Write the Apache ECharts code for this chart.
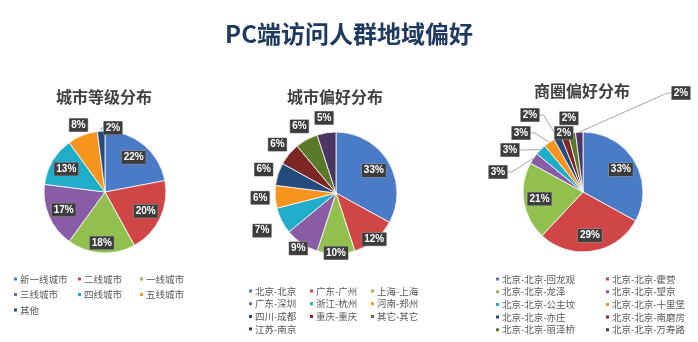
<!DOCTYPE html>
<html>
<head>
<meta charset="utf-8">
<script src="https://cdn.jsdelivr.net/npm/echarts@6/dist/echarts.min.js"></script>
<style>html,body{margin:0;padding:0;background:#fff}#c{width:698px;height:342px}</style>
</head>
<body>
<div id="c"></div>
<script>
// ---- data ----
const mainTitle = 'PC端访问人群地域偏好';

const tierTitle = '城市等级分布';
const tierNames = ['新一线城市', '二线城市', '一线城市', '三线城市', '四线城市', '五线城市', '其他'];
const tierValues = [22, 20, 18, 17, 13, 8, 2];

const cityTitle = '城市偏好分布';
const cityNames = ['北京-北京', '广东-广州', '上海-上海', '广东-深圳', '浙江-杭州', '河南-郑州', '四川-成都', '重庆-重庆', '其它-其它', '江苏-南京'];
const cityValues = [33, 12, 10, 9, 7, 6, 6, 6, 6, 5];

const areaTitle = '商圈偏好分布';
const areaNames = ['北京-北京-回龙观', '北京-北京-霍营', '北京-北京-龙泽', '北京-北京-望京', '北京-北京-公主坟', '北京-北京-十里堡', '北京-北京-亦庄', '北京-北京-南磨房', '北京-北京-丽泽桥', '北京-北京-万寿路'];
const areaValues = [33, 29, 21, 3, 3, 3, 2, 2, 2, 2];

// ---- styles ----
const palette = ['#4a7bc6', '#d04545', '#92c04e', '#8a5ca8', '#1fadc9', '#f7941e', '#254a7c', '#7d2626', '#5b7a29', '#4b3562'];
const cjk = '"Microsoft YaHei", "Noto Sans CJK SC", sans-serif';
const pctLabel = {
  color: '#fff', fontSize: 10, fontWeight: 'bold',
  fontFamily: '"Liberation Sans", Arial, sans-serif',
  backgroundColor: '#3d3d3d', borderColor: '#9a9a9a', borderWidth: 0.5,
  padding: [2, 2, 1, 2], formatter: '{c}%'
};

function toData(names, values) {
  return names.map((n, i) => ({ name: n, value: values[i], itemStyle: { color: palette[i] } }));
}

function mainPie(center, r, names, values, extra) {
  return Object.assign({
    type: 'pie', center: center, radius: [0, r], startAngle: 90, clockwise: true,
    animation: false, silent: true, avoidLabelOverlap: false,
    itemStyle: { borderColor: '#ffffff', borderWidth: 0.8 },
    label: { show: false }, labelLine: { show: false },
    data: toData(names, values)
  }, extra || {});
}

function labelRing(center, labelR, names, values, showIdx) {
  return {
    type: 'pie', center: center, radius: [labelR - 0.5, labelR + 0.5],
    startAngle: 90, clockwise: true, animation: false, silent: true, z: 5,
    itemStyle: { color: 'rgba(0,0,0,0)', borderWidth: 0 },
    label: Object.assign({ show: true, position: 'inside' }, pctLabel),
    labelLine: { show: false },
    data: names.map((n, i) => ({ name: n, value: values[i], label: { show: showIdx.indexOf(i) >= 0 } }))
  };
}

function legendCols(names, lefts, top, gap) {
  const n = lefts.length;
  return lefts.map((l, c) => ({
    orient: 'vertical', left: l, top: top, padding: 0, itemGap: gap,
    icon: 'rect', itemWidth: 5, itemHeight: 5, selectedMode: false,
    textStyle: { fontSize: 9.5, color: '#595959', fontFamily: cjk, lineHeight: 11, padding: [0, 0, 0, -3] },
    data: names.filter((_, i) => i % n === c)
  }));
}

function subTitle(text, x, y) {
  return {
    text: text, left: x, top: y, textAlign: 'center', padding: 0,
    textStyle: { fontSize: 16, fontWeight: 'bold', color: '#404040', fontFamily: cjk, lineHeight: 20 }
  };
}

// outside labels with leader lines (layout placements)
const tierOutside = { 6: { x: 113, y: 128 } };
const areaOutside = { 3: { x: 498, y: 172 }, 4: { x: 510, y: 150 }, 5: { x: 521, y: 133 }, 6: { x: 530, y: 115 }, 9: { x: 681, y: 93 } };

function outsideLabels(names, values, placements) {
  return {
    data: names.map((n, i) => ({
      name: n, value: values[i], itemStyle: { color: palette[i] },
      label: { show: placements[i] != null }, labelLine: { show: placements[i] != null }
    })),
    label: Object.assign({ show: false, position: 'outside' }, pctLabel),
    labelLine: { show: false, length: 6, length2: 4, lineStyle: { color: '#a6a6a6', width: 1 } },
    labelLayout: function (p) {
      const pl = placements[p.dataIndex];
      if (!pl) return {};
      return { x: pl.x, y: pl.y, align: 'center', verticalAlign: 'middle' };
    }
  };
}

const c1 = [105, 192], r1 = 61;
const c2 = [336, 193], r2 = 61;
const c3 = [583, 192], r3 = 60;

const option = {
  animation: false,
  title: [
    { text: mainTitle, left: 349, top: 20, textAlign: 'center', padding: 0,
      textStyle: { fontSize: 24, fontWeight: 'bold', color: '#1f3a60', fontFamily: cjk, lineHeight: 28 } },
    subTitle(tierTitle, 104, 87),
    subTitle(cityTitle, 335, 87),
    subTitle(areaTitle, 582, 81)
  ],
  legend: [].concat(
    legendCols(tierNames, [12, 76, 138], 273.5, 4.5),
    legendCols(cityNames, [247, 308, 369], 285.5, 1.7),
    legendCols(areaNames, [494, 604], 273.5, 1.7)
  ),
  series: [
    mainPie(c1, r1, tierNames, tierValues, outsideLabels(tierNames, tierValues, tierOutside)),
    mainPie(c2, r2, cityNames, cityValues),
    mainPie(c3, r3, areaNames, areaValues, outsideLabels(areaNames, areaValues, areaOutside)),
    labelRing(c1, 42, tierNames, tierValues, [0, 1, 3, 4]),
    labelRing(c1, 48, tierNames, tierValues, [2]),
    labelRing(c1, 69, tierNames, tierValues, [5]),
    labelRing(c2, 41, cityNames, cityValues, [0]),
    labelRing(c2, 57, cityNames, cityValues, [1, 2]),
    labelRing(c2, 64, cityNames, cityValues, [3]),
    labelRing(c2, 80, cityNames, cityValues, [4]),
    labelRing(c2, 73, cityNames, cityValues, [5, 6, 7, 8, 9]),
    labelRing(c3, 41, areaNames, areaValues, [0, 1, 2]),
    labelRing(c3, 59, areaNames, areaValues, [7]),
    labelRing(c3, 72, areaNames, areaValues, [8])
  ]
};

const chart = echarts.init(document.getElementById('c'), null, { renderer: 'canvas' });
chart.setOption(option);
</script>
</body>
</html>
